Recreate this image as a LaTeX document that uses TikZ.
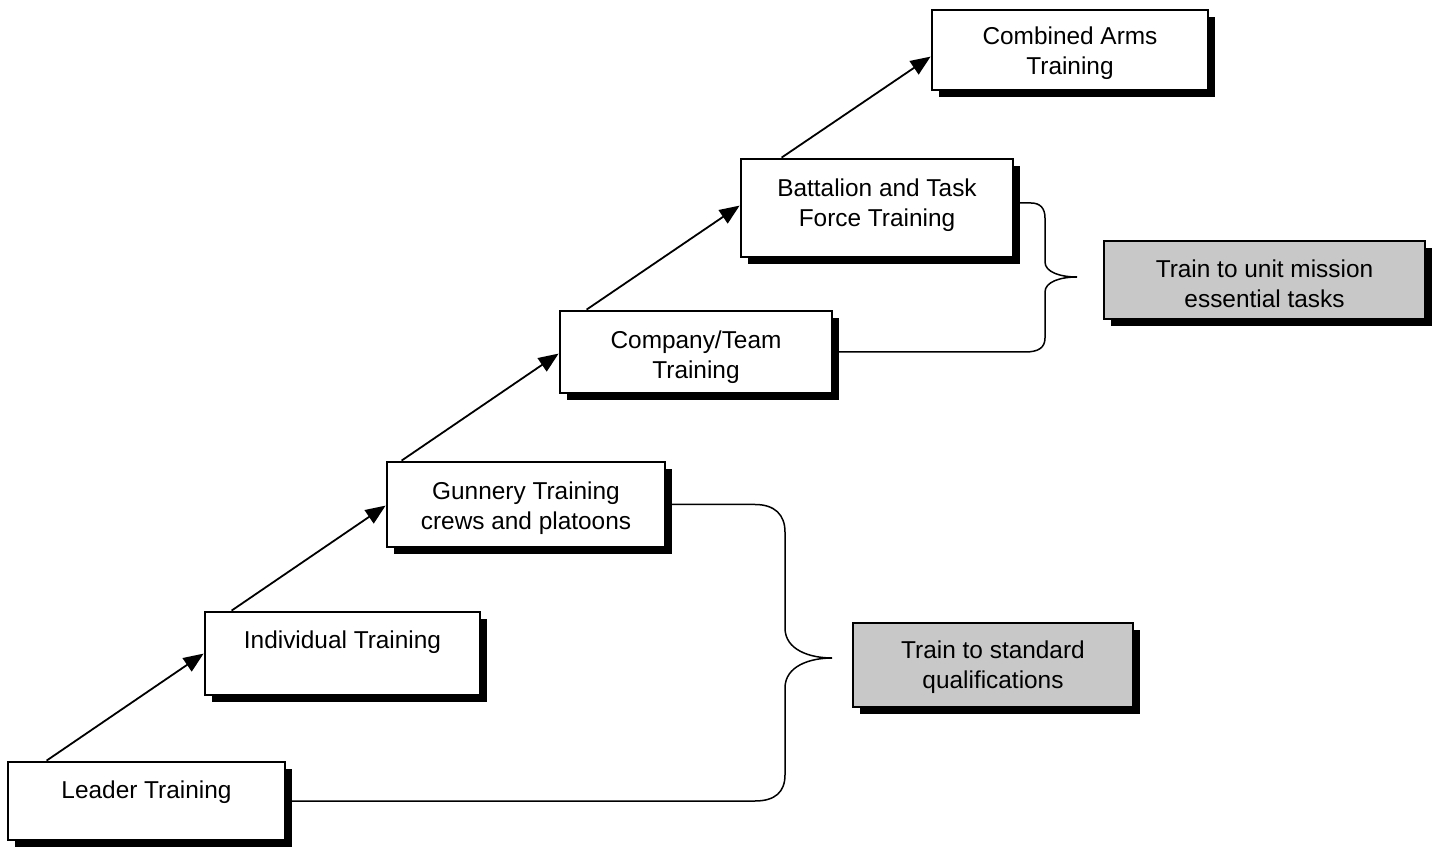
\documentclass[tikz,border=0pt]{standalone}
\usepackage{fontspec}
\setmainfont{Liberation Sans}
\usetikzlibrary{arrows.meta,shadows,calc}
\definecolor{stipple}{RGB}{200,200,200}
\newcommand\tallline[1]{\rule{0pt}{#1pt}}
\newcommand\deepline[1]{\rule[-#1pt]{0pt}{#1pt}}
\tikzset{
  box/.style={draw, line width=1.4pt, fill=white, align=center, inner sep=0pt,
    font=\fontsize{12.2pt}{15pt}\selectfont,
    drop shadow={shadow xshift=3.5pt, shadow yshift=-3.5pt, fill=black, opacity=1}},
  graybox/.style={box, fill=stipple},
  link/.style={line width=0.9pt, -{Triangle[length=10pt,width=8pt]}},
  bracel/.style={line width=0.75pt}
}
\begin{document}
\begin{tikzpicture}[x=0.5pt,y=-0.5pt]
\useasboundingbox (0,0) rectangle (1437,850);

\node[box, minimum width=138.5pt, minimum height=39pt] (leader) at (146.5,801) {\tallline{16.5}Leader Training\\\strut};
\node[box, minimum width=137.5pt, minimum height=41.5pt] (indiv) at (342.5,653.5) {\tallline{14.5}Individual Training\\\strut};
\node[box, minimum width=139pt, minimum height=42.5pt] (gunnery) at (526,504.5) {\tallline{12.5}Gunnery Training\\crews and platoons};
\node[box, minimum width=136pt, minimum height=41pt] (company) at (696,352) {\tallline{14.5}Company/Team\\Training};
\node[box, minimum width=136pt, minimum height=49pt] (battalion) at (877,208) {Battalion and Task\\Force Training\deepline{5.6}};
\node[box, minimum width=138pt, minimum height=40pt] (combined) at (1070,50) {\tallline{12.5}Combined Arms\\Training};
\node[graybox, minimum width=160.5pt, minimum height=39pt] (unit) at (1264.5,280) {\tallline{12.5}Train to unit mission\\essential tasks};
\node[graybox, minimum width=140pt, minimum height=42pt] (standard) at (993,665) {\tallline{11.5}Train to standard\\qualifications};

\draw[link] ($(leader.north west)+(40,0)$) -- ($(indiv.north west)+(0,43)$);
\draw[link] ($(indiv.north west)+(28,0)$) -- ($(gunnery.north west)+(0,45)$);
\draw[link] ($(gunnery.north west)+(16,0)$) -- ($(company.north west)+(0,44)$);
\draw[link] ($(company.north west)+(28,0)$) -- ($(battalion.north west)+(0,48)$);
\draw[link] ($(battalion.north west)+(42,0)$) -- ($(combined.north west)+(0,48)$);

\coordinate (tipa) at (832,658);
\coordinate (tipb) at (1077,277);

\draw[bracel] (gunnery.east) -- (755,504.5)
  .. controls (775,504.5) and (785,515) .. (785,532) -- (785,628)
  .. controls (785,650) and (810,658) .. (tipa)
  .. controls (810,658) and (785,666) .. (785,688) -- (785,775)
  .. controls (785,792) and (775,801) .. (755,801) -- (leader.east);

\draw[bracel] ($(battalion.east)+(0,-5)$) -- (1031,203)
  .. controls (1040,203) and (1045,208) .. (1045,218) -- (1045,262)
  .. controls (1045,272) and (1060,277) .. (tipb)
  .. controls (1060,277) and (1045,282) .. (1045,292) -- (1045,338)
  .. controls (1045,348) and (1038,352) .. (1025,352) -- (company.east);
\end{tikzpicture}
\end{document}
